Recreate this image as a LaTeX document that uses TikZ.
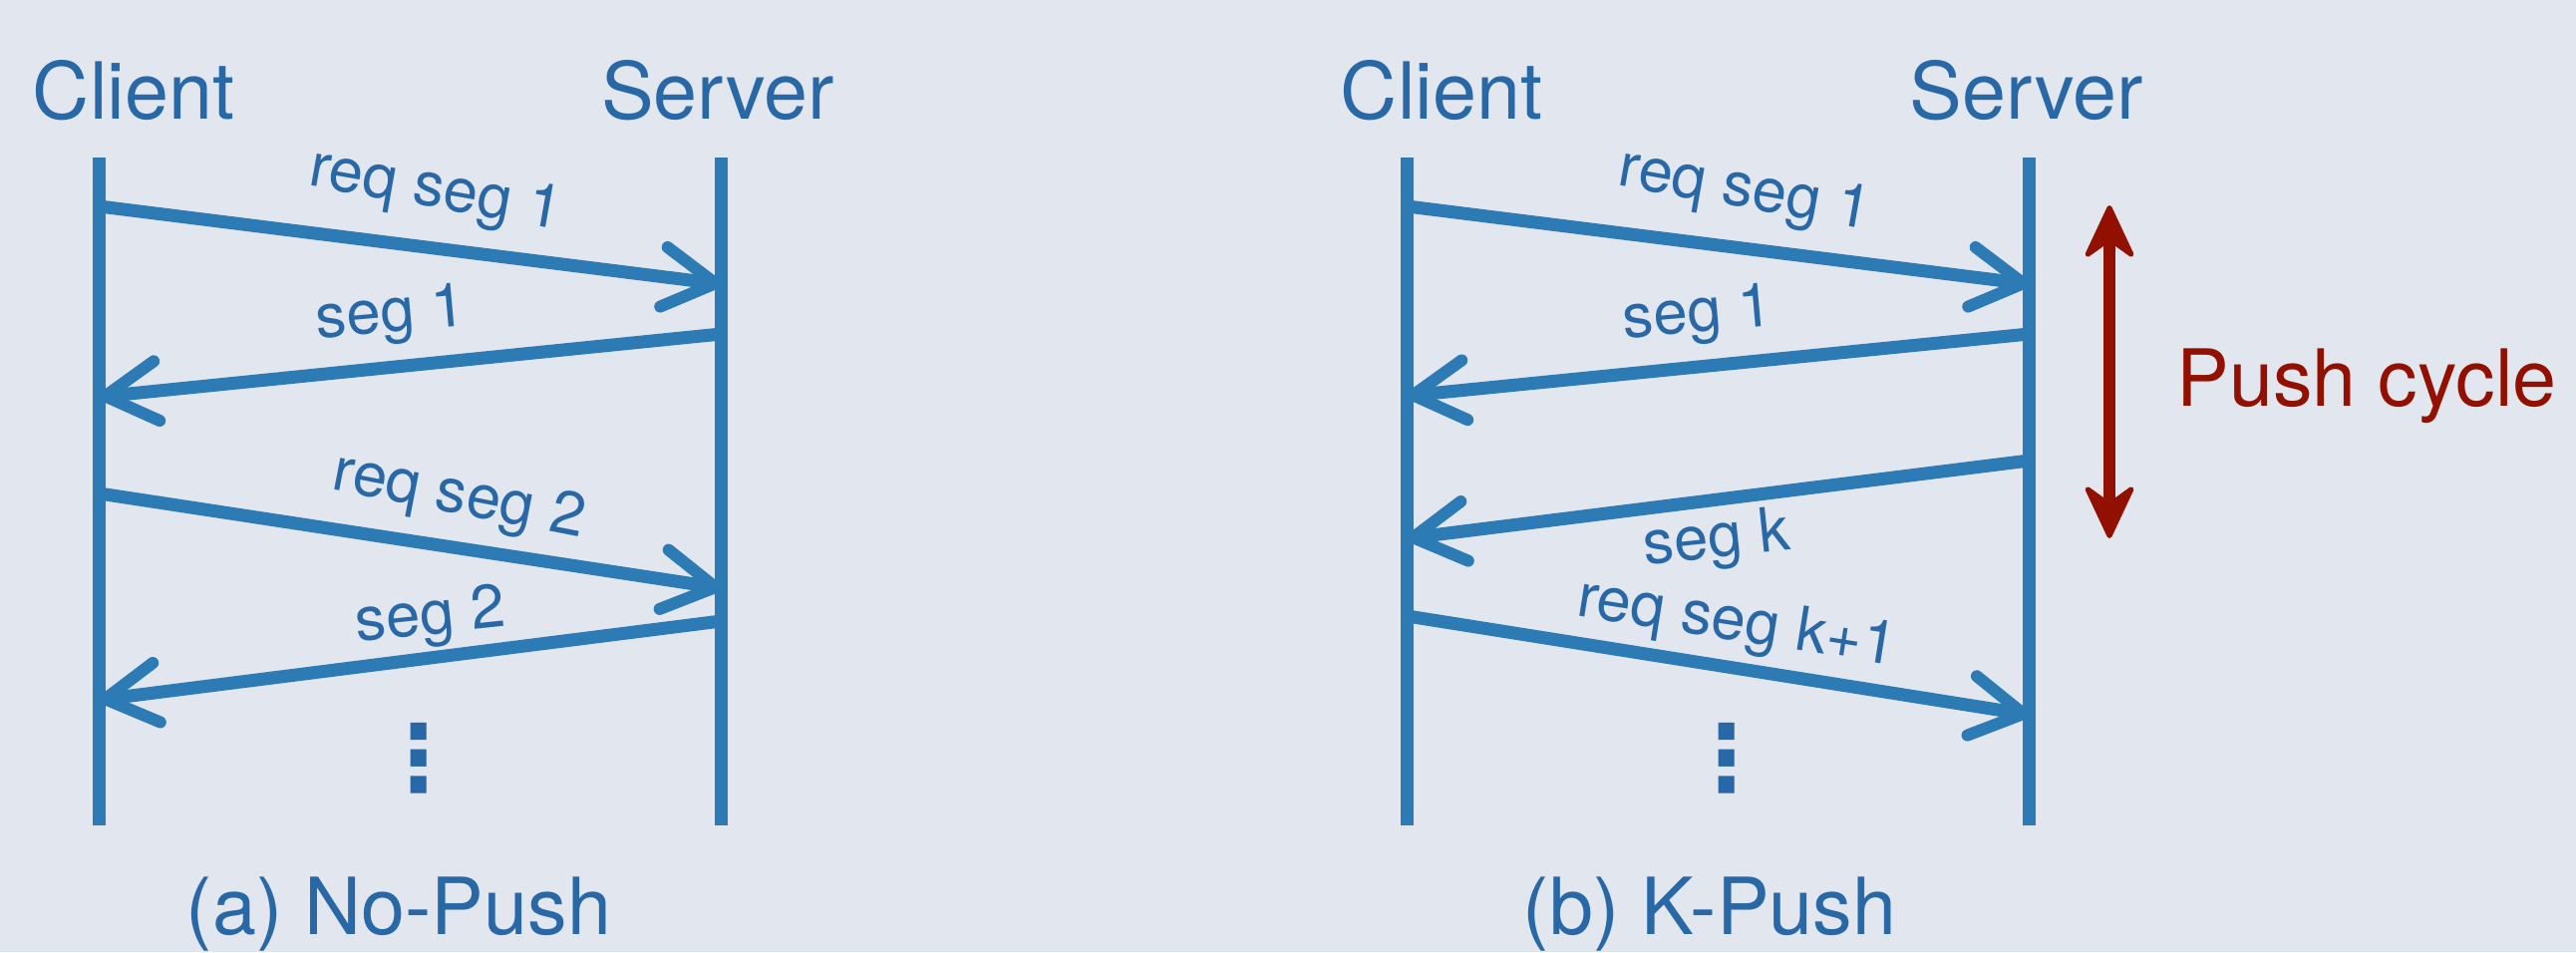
\documentclass[tikz,border=0pt]{standalone}
\definecolor{main}{RGB}{45,123,181}
\definecolor{maintext}{RGB}{40,104,166}
\definecolor{second}{RGB}{146,16,0}
\definecolor{paper}{RGB}{226,230,238}
\usepackage{fontspec}
\setmainfont{TeX Gyre Heros}
\newfontfamily\cstsym{DejaVu Sans}
\usepackage{tikz}
\usetikzlibrary{
	arrows.meta,
	positioning
}
\tikzset{
  % line
	cstlife/.style    ={main, line width=0.13cm}, % life line
  % arrow
	csthd/.tip        ={Stealth[length=0.6cm,width=0.56cm,inset=0.2cm,line width=0.05cm,round]},
	cstmsg/.style     ={main, line width=0.13cm, -{Straight Barb[length=0.52cm,width=0.6cm,line width=0.12cm,round]}},
	cstcycle/.style   ={second, line width=0.12cm, csthd-csthd},
  % text
	csthead/.style    ={text=maintext, inner sep=0pt, anchor=base, font=\fontsize{22.5}{27}\selectfont},
	cstlabel/.style   ={text=maintext, inner sep=0pt, font=\fontsize{17.5}{21}\selectfont},
	cstdots/.style    ={text=maintext, inner sep=0pt, font=\cstsym\bfseries\fontsize{26}{26}\selectfont}
}
\begin{document}
\begin{tikzpicture}
			\useasboundingbox[fill=paper] (0,0) rectangle (25.84,-9.55);
			% (a) No-Push
			\begin{scope}
				\node[csthead] (aclient) at (1.34,-1.19) {Client};
				\node[csthead] (aserver) at (7.20,-1.19) {Server};
				\coordinate (aC) at (0.995,-1.58);
				\coordinate (aCe) at (0.995,-8.28);
				\coordinate (aS) at (7.235,-1.58);
				\coordinate (aSe) at (7.235,-8.28);
				\draw[cstlife] (aC)--(aCe);
				\draw[cstlife] (aS)--(aSe);
				\coordinate (a1s) at (0.995,-2.07);
				\coordinate (a1e) at (7.235,-2.85);
				\coordinate (a2s) at (7.235,-3.35);
				\coordinate (a2e) at (0.995,-3.98);
				\coordinate (a3s) at (0.995,-4.95);
				\coordinate (a3e) at (7.235,-5.90);
				\coordinate (a4s) at (7.235,-6.23);
				\coordinate (a4e) at (0.995,-7.02);
				\draw[cstmsg] (a1s)--(a1e);
				\draw[cstmsg] (a2s)--(a2e);
				\draw[cstmsg] (a3s)--(a3e);
				\draw[cstmsg] (a4s)--(a4e);
				\node[cstlabel,rotate=-10] (areq1) at (4.37,-1.93) {req seg 1};
				\node[cstlabel,rotate=5] (aseg1) at (3.92,-3.18) {seg 1};
				\node[cstlabel,rotate=-11] (areq2) at (4.60,-5.00) {req seg 2};
				\node[cstlabel,rotate=6] (aseg2) at (4.32,-6.21) {seg 2};
				\node[cstdots] (adots) at (4.20,-7.61) {⋮};
				\node[csthead] (acap) at (4.00,-9.37) {(a) No-Push};
			\end{scope}
			% (b) K-Push
			\begin{scope}[xshift=13.12cm]
				\node[csthead] (bclient) at (1.34,-1.19) {Client};
				\node[csthead] (bserver) at (7.205,-1.19) {Server};
				\coordinate (bC) at (0.995,-1.58);
				\coordinate (bCe) at (0.995,-8.28);
				\coordinate (bS) at (7.235,-1.58);
				\coordinate (bSe) at (7.235,-8.28);
				\draw[cstlife] (bC)--(bCe);
				\draw[cstlife] (bS)--(bSe);
				\coordinate (b1s) at (0.995,-2.07);
				\coordinate (b1e) at (7.235,-2.85);
				\coordinate (b2s) at (7.235,-3.35);
				\coordinate (b2e) at (0.995,-3.97);
				\coordinate (b3s) at (7.235,-4.62);
				\coordinate (b3e) at (0.995,-5.40);
				\coordinate (b4s) at (0.995,-6.18);
				\coordinate (b4e) at (7.235,-7.17);
				\draw[cstmsg] (b1s)--(b1e);
				\draw[cstmsg] (b2s)--(b2e);
				\draw[cstmsg] (b3s)--(b3e);
				\draw[cstmsg] (b4s)--(b4e);
				\node[cstlabel,rotate=-10] (breq1) at (4.38,-1.93) {req seg 1};
				\node[cstlabel,rotate=5] (bseg1) at (3.91,-3.18) {seg 1};
				\node[cstlabel,rotate=6] (bsegk) at (4.10,-5.43) {seg k};
				\node[cstlabel,rotate=-9] (breqk) at (4.30,-6.27) {req seg k+1};
				\node[cstdots] (bdots) at (4.20,-7.61) {⋮};
				\node[csthead] (bcap) at (4.03,-9.37) {(b) K-Push};
				% push cycle
				\coordinate (bU) at (8.04,-2.06);
				\coordinate (bD) at (8.04,-5.40);
				\draw[cstcycle] (bD)--(bU);
				\node[csthead,anchor=base west,text=second] (bpush) at (8.71,-4.07) {Push cycle};
			\end{scope}
		\end{tikzpicture}
\end{document}
